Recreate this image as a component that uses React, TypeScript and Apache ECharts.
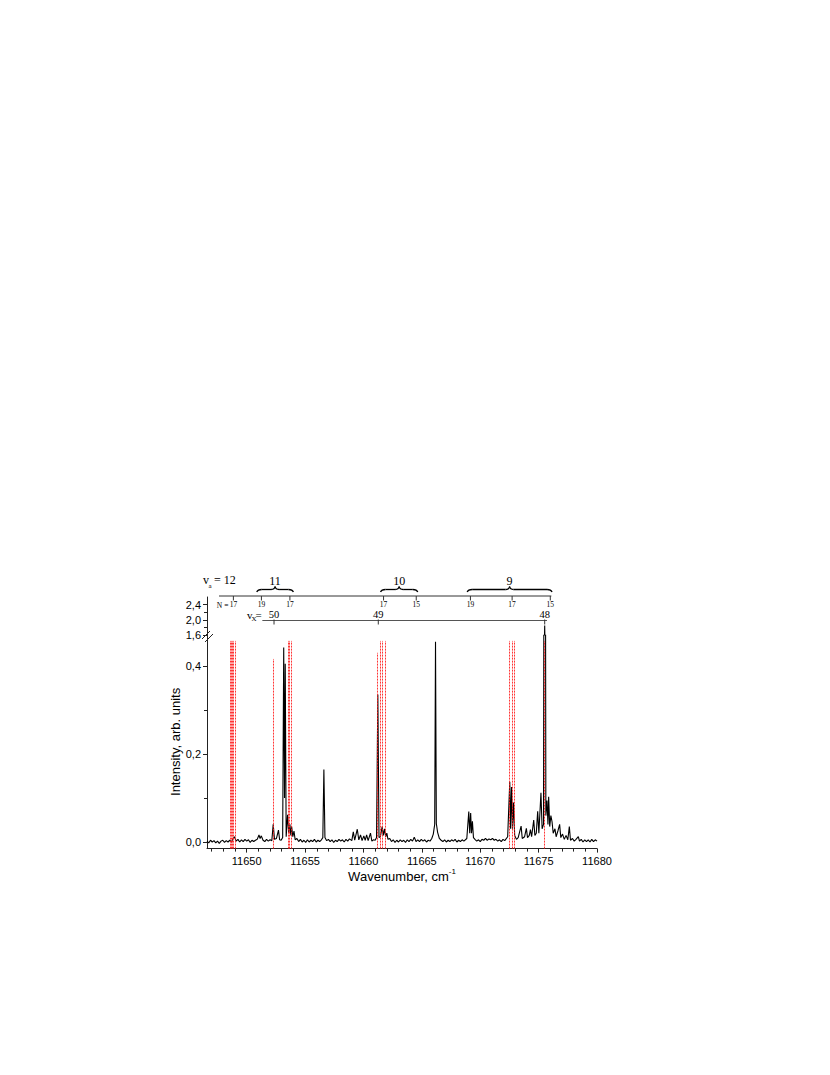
import React, { useEffect, useRef } from "react";
import * as echarts from "echarts";

// ---- spectrum: [wavenumber (cm-1), intensity (arb. units)] ----
const spectrum: [number, number][] = [
  [11646.6, 0.002], [11646.75, -0.002], [11646.9, 0.004], [11647.05, 0.0], [11647.2, 0.003],
  [11647.35, -0.002], [11647.5, 0.002], [11647.65, -0.003], [11647.8, 0.002], [11647.95, 0.004],
  [11648.1, -0.001], [11648.25, 0.003], [11648.4, 0.0], [11648.55, 0.004], [11648.7, 0.0],
  [11648.8, 0.006], [11648.95, 0.012], [11649.1, 0.002], [11649.25, 0.006], [11649.4, 0.0],
  [11649.55, 0.005], [11649.7, 0.001], [11649.85, 0.006], [11650.0, 0.002], [11650.15, 0.005],
  [11650.3, -0.001], [11650.45, 0.004], [11650.6, 0.001], [11650.75, 0.004], [11650.9, 0.006],
  [11651.05, 0.016], [11651.15, 0.008], [11651.25, 0.014], [11651.4, 0.004], [11651.55, 0.001],
  [11651.7, 0.006], [11651.85, 0.002], [11652.0, 0.005], [11652.15, 0.003], [11652.27, 0.04],
  [11652.38, 0.006], [11652.55, 0.008], [11652.72, 0.027], [11652.82, 0.005], [11652.95, 0.004],
  [11653.08, 0.01], [11653.17, 0.442], [11653.24, 0.1], [11653.3, 0.405], [11653.38, 0.012],
  [11653.5, 0.062], [11653.6, 0.02], [11653.7, 0.04], [11653.78, 0.015], [11653.85, 0.035],
  [11653.95, 0.012], [11654.05, 0.025], [11654.15, 0.005], [11654.3, 0.008], [11654.45, 0.001],
  [11654.6, 0.006], [11654.75, 0.0], [11654.9, 0.004], [11655.05, -0.001], [11655.2, 0.005],
  [11655.35, 0.0], [11655.5, 0.004], [11655.65, 0.001], [11655.8, 0.006], [11655.95, 0.0],
  [11656.1, 0.004], [11656.25, 0.001], [11656.4, 0.005], [11656.52, 0.01], [11656.61, 0.165],
  [11656.7, 0.01], [11656.85, 0.003], [11657.0, 0.006], [11657.15, 0.001], [11657.3, 0.005],
  [11657.45, -0.001], [11657.6, 0.004], [11657.75, 0.001], [11657.9, 0.006], [11658.05, 0.002],
  [11658.2, 0.005], [11658.35, 0.0], [11658.5, 0.006], [11658.65, 0.002], [11658.8, 0.007],
  [11659.0, 0.003], [11659.13, 0.023], [11659.25, 0.004], [11659.47, 0.029], [11659.6, 0.005],
  [11659.75, 0.016], [11659.88, 0.003], [11660.03, 0.014], [11660.15, 0.004], [11660.27, 0.016],
  [11660.4, 0.003], [11660.6, 0.02], [11660.72, 0.002], [11660.85, 0.005], [11661.0, 0.004],
  [11661.12, 0.01], [11661.23, 0.335], [11661.33, 0.01], [11661.45, 0.012], [11661.6, 0.035],
  [11661.7, 0.015], [11661.8, 0.03], [11661.9, 0.012], [11662.0, 0.02], [11662.1, 0.006],
  [11662.25, 0.008], [11662.4, 0.001], [11662.55, 0.005], [11662.7, -0.001], [11662.85, 0.004],
  [11663.0, 0.0], [11663.15, 0.005], [11663.3, 0.001], [11663.45, 0.004], [11663.6, -0.001],
  [11663.75, 0.005], [11663.9, 0.001], [11664.05, 0.006], [11664.2, 0.002], [11664.35, 0.011],
  [11664.5, 0.001], [11664.65, 0.005], [11664.8, 0.001], [11664.95, 0.006], [11665.1, 0.002],
  [11665.25, 0.005], [11665.4, 0.0], [11665.55, 0.004], [11665.7, 0.002], [11665.85, 0.008],
  [11665.98, 0.018], [11666.1, 0.04], [11666.17, 0.455], [11666.24, 0.042], [11666.35, 0.022],
  [11666.5, 0.008], [11666.65, 0.004], [11666.8, 0.001], [11666.95, 0.005], [11667.1, 0.0],
  [11667.25, 0.004], [11667.4, 0.001], [11667.55, 0.005], [11667.7, 0.002], [11667.85, 0.006],
  [11668.0, 0.0], [11668.15, 0.004], [11668.3, 0.001], [11668.45, 0.005], [11668.6, 0.002],
  [11668.85, 0.008], [11669.02, 0.069], [11669.1, 0.02], [11669.18, 0.066], [11669.25, 0.02],
  [11669.33, 0.047], [11669.42, 0.01], [11669.55, 0.006], [11669.7, 0.002], [11669.85, 0.005],
  [11670.0, 0.001], [11670.15, 0.006], [11670.3, 0.004], [11670.45, 0.008], [11670.6, 0.004],
  [11670.75, 0.007], [11670.9, 0.005], [11671.05, 0.008], [11671.2, 0.004], [11671.35, 0.006],
  [11671.5, 0.002], [11671.65, 0.005], [11671.8, 0.001], [11671.95, 0.006], [11672.1, 0.003],
  [11672.35, 0.012], [11672.53, 0.137], [11672.6, 0.03], [11672.68, 0.125], [11672.76, 0.03],
  [11672.85, 0.09], [11672.95, 0.015], [11673.1, 0.006], [11673.25, 0.01], [11673.5, 0.036],
  [11673.6, 0.008], [11673.8, 0.012], [11673.95, 0.031], [11674.05, 0.01], [11674.2, 0.015],
  [11674.3, 0.028], [11674.4, 0.012], [11674.58, 0.05], [11674.68, 0.015], [11674.8, 0.02],
  [11674.92, 0.07], [11675.02, 0.02], [11675.2, 0.112], [11675.3, 0.03], [11675.42, 0.04],
  [11675.52, 1.85], [11675.62, 0.06], [11675.72, 0.094], [11675.8, 0.04], [11675.86, 0.103],
  [11675.95, 0.035], [11676.05, 0.06], [11676.15, 0.046], [11676.25, 0.02], [11676.4, 0.03],
  [11676.5, 0.012], [11676.65, 0.025], [11676.8, 0.04], [11676.9, 0.01], [11677.05, 0.018],
  [11677.2, 0.006], [11677.35, 0.015], [11677.5, 0.005], [11677.63, 0.035], [11677.73, 0.004],
  [11677.9, 0.008], [11678.05, 0.002], [11678.2, 0.006], [11678.4, 0.012], [11678.5, 0.002],
  [11678.65, 0.006], [11678.8, 0.0], [11678.95, 0.005], [11679.1, 0.001], [11679.25, 0.005],
  [11679.4, 0.0], [11679.55, 0.006], [11679.7, 0.001], [11679.85, 0.005], [11680.0, 0.002],
];

// ---- axes ----
const xMin = 11646.6;
const xMax = 11680;
const xLabelValues = [11650, 11655, 11660, 11665, 11670, 11675, 11680];
const xMinorValues = [
  11647, 11648, 11649, 11651, 11652, 11653, 11654, 11656, 11657, 11658, 11659,
  11661, 11662, 11663, 11664, 11666, 11667, 11668, 11669, 11671, 11672, 11673,
  11674, 11676, 11677, 11678, 11679,
];
const yLowerMin = -0.015;
const yLowerMax = 0.47;
const yLowerLabels = [0, 0.2, 0.4];
const yLowerMinor = [0.1, 0.3];
const yUpperMin = 1.6;
const yUpperMax = 2.6;
const yUpperLabels = [1.6, 2.0, 2.4];
const yUpperMinor = [1.8, 2.2];

// ---- red dashed assignment lines: wavenumber and top value ----
const redLineWn = [
  11648.62, 11648.71, 11648.8, 11648.89, 11648.98,
  11652.27,
  11653.52, 11653.68, 11653.85,
  11661.2,
  11661.47, 11661.65, 11661.83,
  11672.5, 11672.7, 11672.92,
  11675.52,
];
const redLineTop = [
  0.457, 0.457, 0.457, 0.457, 0.457,
  0.416,
  0.457, 0.457, 0.457,
  0.43,
  0.457, 0.457, 0.457,
  0.457, 0.457, 0.457,
  0.457,
];

// ---- annotation scales ----
const nLineRange = [11647.63, 11676.09];
const nLevelWn = [11648.86, 11651.26, 11653.7, 11661.72, 11664.52, 11669.16, 11672.73, 11676.0];
const nLevelLabels = ["17", "19", "17", "17", "15", "19", "17", "15"];
const vxLineRange = [11651.34, 11675.72];
const vxWn = [11652.34, 11661.27, 11675.52];
const vxLabels = ["50", "49", "48"];
const braceFrom = [11650.86, 11661.46, 11668.88];
const braceTo = [11654.0, 11664.65, 11676.15];
const braceLabels = ["11", "10", "9"];

const SANS = "Liberation Sans, Arial, sans-serif";
const SERIF = "Liberation Serif, Times New Roman, serif";
const comma = (v: number) => v.toFixed(1).replace(".", ",");

export default function App() {
  const ref = useRef<HTMLDivElement>(null);

  useEffect(() => {
    if (!ref.current) return;
    const chart = echarts.init(ref.current, null, { renderer: "svg" });

    const gridLeft = 207;
    const gridWidth = 390;
    const upperTop = 597;
    const upperHeight = 38;
    const lowerTop = 635.2;
    const lowerHeight = 213.4;

    const labelStyle = { fontFamily: SANS, fontSize: 11, color: "#000" };

    const option: any = {
      animation: false,
      backgroundColor: "#fff",
      grid: [
        { left: gridLeft, top: upperTop, width: gridWidth, height: upperHeight },
        { left: gridLeft, top: lowerTop, width: gridWidth, height: lowerHeight },
      ],
      xAxis: [
        { type: "value", gridIndex: 0, min: xMin, max: xMax, show: false },
        {
          type: "value",
          gridIndex: 1,
          min: xMin,
          max: xMax,
          position: "bottom",
          axisLine: { show: true, onZero: false, lineStyle: { color: "#222", width: 1 } },
          axisTick: { show: true, inside: false, length: 4, customValues: xLabelValues, lineStyle: { color: "#222" } },
          axisLabel: { ...labelStyle, customValues: xLabelValues, margin: 7, formatter: (v: number) => String(v) },
          splitLine: { show: false },
          name: "{a|Wavenumber, cm}{b|-1}",
          nameLocation: "middle",
          nameGap: 19,
          nameTextStyle: {
            rich: {
              a: { fontFamily: SANS, fontSize: 13, color: "#000", lineHeight: 15, verticalAlign: "bottom" },
              b: { fontFamily: SANS, fontSize: 8, color: "#000", lineHeight: 15, verticalAlign: "top" },
            },
          },
        },
        {
          type: "value",
          gridIndex: 1,
          min: xMin,
          max: xMax,
          position: "bottom",
          axisLine: { show: false, onZero: false },
          axisTick: { show: true, inside: false, length: 3, customValues: xMinorValues, lineStyle: { color: "#222" } },
          axisLabel: { show: false },
          splitLine: { show: false },
        },
      ],
      yAxis: [
        {
          type: "value",
          gridIndex: 0,
          min: yUpperMin,
          max: yUpperMax,
          position: "left",
          axisLine: { show: true, onZero: false, lineStyle: { color: "#222", width: 1 } },
          axisTick: { show: true, inside: false, length: 4, customValues: yUpperLabels, lineStyle: { color: "#222" } },
          axisLabel: { ...labelStyle, customValues: yUpperLabels, margin: 6, formatter: comma },
          splitLine: { show: false },
        },
        {
          type: "value",
          gridIndex: 1,
          min: yLowerMin,
          max: yLowerMax,
          position: "left",
          axisLine: { show: true, onZero: false, lineStyle: { color: "#222", width: 1 } },
          axisTick: { show: true, inside: false, length: 4, customValues: yLowerLabels, lineStyle: { color: "#222" } },
          axisLabel: { ...labelStyle, customValues: yLowerLabels, margin: 6, formatter: comma },
          splitLine: { show: false },
          name: "Intensity, arb. units",
          nameLocation: "middle",
          nameGap: 24,
          nameTextStyle: { fontFamily: SANS, fontSize: 13, color: "#000" },
        },
        {
          type: "value",
          gridIndex: 1,
          min: yLowerMin,
          max: yLowerMax,
          position: "left",
          axisLine: { show: false, onZero: false },
          axisTick: { show: true, inside: false, length: 3, customValues: yLowerMinor, lineStyle: { color: "#222" } },
          axisLabel: { show: false },
          splitLine: { show: false },
        },
        {
          type: "value",
          gridIndex: 0,
          min: yUpperMin,
          max: yUpperMax,
          position: "left",
          axisLine: { show: false, onZero: false },
          axisTick: { show: true, inside: false, length: 3, customValues: yUpperMinor, lineStyle: { color: "#222" } },
          axisLabel: { show: false },
          splitLine: { show: false },
        },
      ],
      series: [
        {
          type: "line",
          xAxisIndex: 0,
          yAxisIndex: 0,
          data: spectrum,
          showSymbol: false,
          symbol: "none",
          clip: true,
          lineStyle: { color: "#000", width: 1.1 },
          silent: true,
        },
        {
          type: "line",
          xAxisIndex: 1,
          yAxisIndex: 1,
          data: spectrum,
          showSymbol: false,
          symbol: "none",
          clip: true,
          lineStyle: { color: "#000", width: 1.1 },
          silent: true,
          markLine: {
            silent: true,
            symbol: ["none", "none"],
            label: { show: false },
            lineStyle: { color: "#ff2020", width: 1, type: [2, 1], opacity: 0.9 },
            data: redLineWn.map((wn, i) => [
              { coord: [wn, yLowerMin] },
              { coord: [wn, redLineTop[i]] },
            ]),
          },
        },
      ],
    };

    chart.setOption(option);

    const X = (wn: number) => chart.convertToPixel({ xAxisIndex: 0 }, wn) as number;
    const g: any[] = [];
    const nY = 596;
    const vY = 620.5;

    // N scale line
    g.push({ type: "line", shape: { x1: X(nLineRange[0]), y1: nY, x2: X(nLineRange[1]), y2: nY }, style: { stroke: "#333", lineWidth: 1 } });
    nLevelWn.forEach((wn, i) => {
      const x = X(wn);
      g.push({ type: "line", shape: { x1: x, y1: nY, x2: x, y2: nY + 4.5 }, style: { stroke: "#333", lineWidth: 1 } });
      g.push({ type: "text", x, y: nY + 4.5, style: { text: nLevelLabels[i], font: `7.5px ${SERIF}`, fill: "#000", align: "center", verticalAlign: "top" } });
    });
    g.push({ type: "text", x: X(nLevelWn[0]) - 5, y: nY + 9, style: { text: "N =", font: `7.5px ${SERIF}`, fill: "#000", align: "right", verticalAlign: "middle" } });

    // v_X scale line
    g.push({ type: "line", shape: { x1: X(vxLineRange[0]), y1: vY, x2: X(vxLineRange[1]), y2: vY }, style: { stroke: "#555", lineWidth: 1 } });
    vxWn.forEach((wn, i) => {
      const x = X(wn);
      g.push({ type: "line", shape: { x1: x, y1: vY - 1, x2: x, y2: vY + 4 }, style: { stroke: "#333", lineWidth: 1 } });
      g.push({ type: "text", x, y: vY - 0.5, style: { text: vxLabels[i], font: `10.5px ${SERIF}`, fill: "#000", align: "center", verticalAlign: "bottom" } });
    });
    const x50 = X(vxWn[0]);
    g.push({ type: "text", x: x50 - 27, y: vY - 6, style: { text: "v", font: `11px ${SERIF}`, fill: "#000", align: "left", verticalAlign: "middle" } });
    g.push({ type: "text", x: x50 - 22.5, y: vY - 1.5, style: { text: "X", font: `7px ${SERIF}`, fill: "#000", align: "left", verticalAlign: "middle" } });
    g.push({ type: "text", x: x50 - 18.5, y: vY - 6, style: { text: "=", font: `11px ${SERIF}`, fill: "#000", align: "left", verticalAlign: "middle" } });

    // v_a label
    g.push({ type: "text", x: 203, y: 580, style: { text: "v", font: `12px ${SERIF}`, fill: "#000", align: "left", verticalAlign: "middle" } });
    g.push({ type: "text", x: 208.5, y: 585.5, style: { text: "a", font: `7px ${SERIF}`, fill: "#000", align: "left", verticalAlign: "middle" } });
    g.push({ type: "text", x: 214, y: 580, style: { text: "= 12", font: `12px ${SERIF}`, fill: "#000", align: "left", verticalAlign: "middle" } });

    // braces
    const yb = 592;
    const ym = 589.5;
    const yt = 586.5;
    braceFrom.forEach((from, i) => {
      const x1 = X(from);
      const x2 = X(braceTo[i]);
      const xc = (x1 + x2) / 2;
      const st = { stroke: "#000", lineWidth: 1.3, fill: "none" };
      g.push({ type: "bezierCurve", shape: { x1: x1, y1: yb, cpx1: x1 + 1, cpy1: ym, x2: x1 + 5, y2: ym }, style: st });
      g.push({ type: "line", shape: { x1: x1 + 5, y1: ym, x2: xc - 4, y2: ym }, style: st });
      g.push({ type: "bezierCurve", shape: { x1: xc - 4, y1: ym, cpx1: xc - 0.5, cpy1: ym, x2: xc, y2: yt }, style: st });
      g.push({ type: "bezierCurve", shape: { x1: xc, y1: yt, cpx1: xc + 0.5, cpy1: ym, x2: xc + 4, y2: ym }, style: st });
      g.push({ type: "line", shape: { x1: xc + 4, y1: ym, x2: x2 - 5, y2: ym }, style: st });
      g.push({ type: "bezierCurve", shape: { x1: x2 - 5, y1: ym, cpx1: x2 - 1, cpy1: ym, x2: x2, y2: yb }, style: st });
      g.push({ type: "text", x: xc, y: 580.5, style: { text: braceLabels[i], font: `12px ${SERIF}`, fill: "#000", align: "center", verticalAlign: "middle" } });
    });

    // axis break marks
    g.push({ type: "line", shape: { x1: 202, y1: 639, x2: 210, y2: 631 }, style: { stroke: "#222", lineWidth: 1 } });
    g.push({ type: "line", shape: { x1: 205, y1: 642, x2: 213, y2: 634 }, style: { stroke: "#222", lineWidth: 1 } });

    chart.setOption({ graphic: g });

    return () => chart.dispose();
  }, []);

  return (
    <div
      ref={ref}
      style={{ position: "absolute", left: 0, top: 0, width: 830, height: 1075, background: "#fff" }}
    />
  );
}
